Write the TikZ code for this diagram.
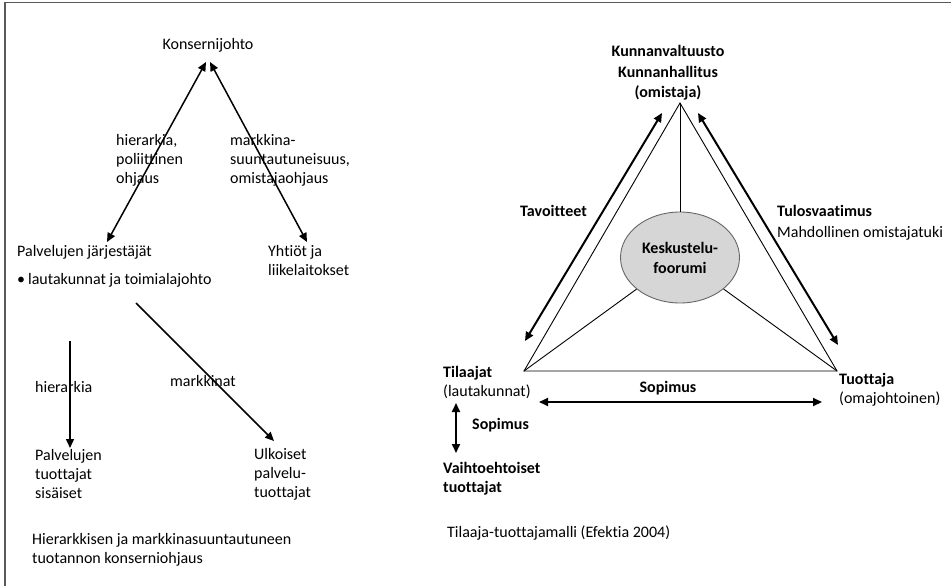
\documentclass[tikz,border=0pt]{standalone}
\usepackage{fontspec}
\setmainfont[Ligatures=NoCommon]{Carlito}
\usetikzlibrary{arrows.meta,shapes.geometric}
\begin{document}
\begin{tikzpicture}[x=1pt,y=-1pt,
  txt/.style={inner sep=0pt, font=\fontsize{16}{19}\selectfont, align=left},
  btxt/.style={inner sep=0pt, font=\fontsize{16}{19}\selectfont\bfseries, align=left},
  link/.style={{Triangle[length=9pt,width=8pt]}-{Triangle[length=9pt,width=8pt]}, line width=1.5pt},
  oneway/.style={-{Triangle[length=9pt,width=8pt]}, line width=1.5pt},
  bold link/.style={{Triangle[length=9pt,width=8pt]}-{Triangle[length=9pt,width=8pt]}, line width=2pt},
  edge line/.style={line width=0.9pt},
  frame/.style={draw=black!65, line width=1.6pt}
]
\useasboundingbox (0,0) rectangle (951,586);
% outer frame (top and left sides only)
\draw[frame] (951,2.5) -- (5,2.5) -- (5,586);

% ---------------- concern steering ----------------
% multi-line nodes are anchored at the baseline of their last line
\node[txt, anchor=base] (konserni) at (208,50) {Konsernijohto};
\node[txt, anchor=base west] (jarj) at (17,256) {Palvelujen järjestäjät};
\node[txt, anchor=base west] (lauta) at (17,284) {•\hspace{3pt}lautakunnat ja toimialajohto};
\node[txt, anchor=base west] (yhtiot) at (268,275) {Yhtiöt ja\\liikelaitokset};
\node[txt, anchor=base west] (hierlab) at (116,183) {hierarkia,\\poliittinen\\ohjaus};
\node[txt, anchor=base west] (marklab) at (230,183) {markkina-\\suuntautuneisuus,\\omistajaohjaus};
\node[txt, anchor=base west] (hier2) at (35,392) {hierarkia};
\node[txt, anchor=base west] (mark2) at (170,386) {markkinat};
\node[txt, anchor=base west] (sisaiset) at (35,498) {Palvelujen\\tuottajat\\sisäiset};
\node[txt, anchor=base west] (ulkoiset) at (254,497) {Ulkoiset\\palvelu-\\tuottajat};
\node[txt, anchor=base west] (capL) at (32,563) {Hierarkkisen ja markkinasuuntautuneen\\tuotannon konserniohjaus};

\coordinate (kL) at (206,62);
\coordinate (kR) at (210,62);
\coordinate (jTop) at (107,242);
\coordinate (yTop) at (307,242);
\coordinate (vStart) at (70,341);
\coordinate (vEnd) at (70,448);
\coordinate (dStart) at (136,303);
\coordinate (dEnd) at (274,441);

\draw[link] (jTop) -- (kL);
\draw[link] (kR) -- (yTop);
\draw[oneway] (vStart) -- (vEnd);
\draw[oneway] (dStart) -- (dEnd);

% ---------------- purchaser-provider model ----------------
\coordinate (apex) at (680,103);
\coordinate (bl) at (524,371);
\coordinate (br) at (837,371);
\node[ellipse, draw=black!60, line width=0.9pt, fill=black!16, minimum width=119pt, minimum height=91pt, inner sep=0pt,
      font=\fontsize{16}{20}\selectfont\bfseries, align=center] (forum) at (680,257.5) {Keskustelu-\\foorumi};

\draw[edge line] (apex) -- (bl) -- (br) -- cycle;
\draw[edge line] (apex) -- (forum);
\draw[edge line] (bl) -- (forum);
\draw[edge line] (br) -- (forum);

\node[btxt, anchor=base, align=center, font=\fontsize{16}{20}\selectfont\bfseries] (owner) at (668,97) {Kunnanvaltuusto\\Kunnanhallitus\\(omistaja)};
\node[btxt, anchor=base west] (tavoit) at (520,216) {Tavoitteet};
\node[txt, anchor=base west] (tulos) at (777,237) {\textbf{Tulosvaatimus}\\[2pt]Mahdollinen omistajatuki};
\node[txt, anchor=base west] (tilaajat) at (443,396) {\textbf{Tilaajat}\\(lautakunnat)};
\node[txt, anchor=base west] (tuottaja) at (839,403) {\textbf{Tuottaja}\\(omajohtoinen)};
\node[btxt, anchor=base] (sop1) at (668,392) {Sopimus};
\node[btxt, anchor=base west] (sop2) at (472,429) {Sopimus};
\node[btxt, anchor=base west] (vaiht) at (443,492) {Vaihtoehtoiset\\tuottajat};
\node[txt, anchor=base west] (capR) at (447,537) {Tilaaja-tuottajamalli (Efektia 2004)};

\coordinate (lUp) at (662,113);
\coordinate (lDown) at (525,341);
\coordinate (rUp) at (698,113);
\coordinate (rDown) at (838,345);
\coordinate (hL) at (539,402);
\coordinate (hR) at (822,402);
\coordinate (vUp) at (456,403);
\coordinate (vDown) at (456,453);

\draw[bold link] (lDown) -- (lUp);
\draw[bold link] (rUp) -- (rDown);
\draw[bold link] (hL) -- (hR);
\draw[bold link] (vUp) -- (vDown);
\end{tikzpicture}
\end{document}
